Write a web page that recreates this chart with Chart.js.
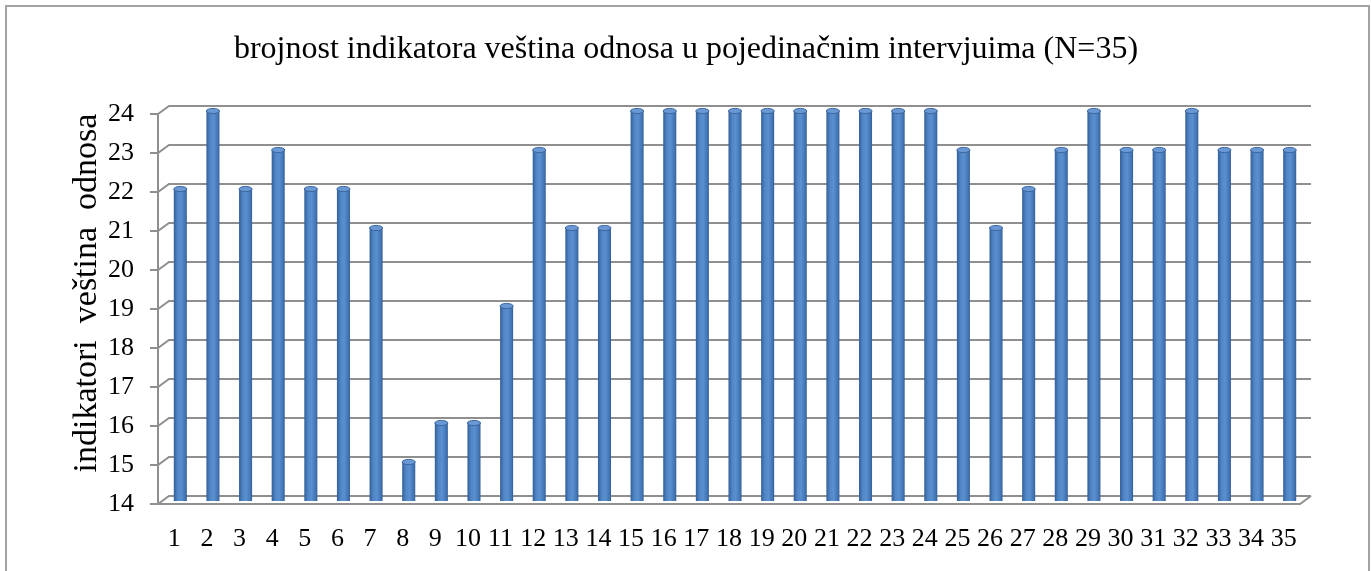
<!DOCTYPE html>
<html>
<head>
<meta charset="utf-8">
<script src="https://cdn.jsdelivr.net/npm/chart.js@4/dist/chart.umd.min.js"></script>
<style>
  html, body { margin: 0; padding: 0; background: #fff; }
  #wrap { position: relative; width: 1372px; height: 571px; overflow: hidden; }
  #frame { position: absolute; left: 5px; top: 5px; width: 1361px; height: 600px;
           border: 2px solid #a3a3a3; pointer-events: none; }
</style>
</head>
<body>
<div id="wrap">
  <canvas id="chart" width="1372" height="571"></canvas>
  <div id="frame"></div>
</div>
<script>
const TITLE = 'brojnost indikatora veština odnosa u pojedinačnim intervjuima (N=35)';
const Y_TITLE = 'indikatori  veština  odnosa';
const INTERVIEWS = ['1','2','3','4','5','6','7','8','9','10','11','12','13','14','15','16','17','18',
  '19','20','21','22','23','24','25','26','27','28','29','30','31','32','33','34','35'];
const INDICATORS = [22, 24, 22, 23, 22, 22, 21, 15, 16, 16, 19, 23, 21, 21, 24, 24, 24, 24,
  24, 24, 24, 24, 24, 24, 23, 21, 22, 23, 24, 23, 23, 24, 23, 23, 23];
const Y_MIN = 14, Y_MAX = 24;

const FONT = 'Liberation Serif, Times New Roman, serif';
const GRID = '#8f8f8f';
const DEPTH_X = 11, DEPTH_Y = 8;   // 3d wall offset
const SHIFT_X = 6, SHIFT_Y = -3;   // bars sit half way into the depth

// gray back wall + floor, like excel 3d charts
const wallPlugin = {
  id: 'wall',
  beforeDatasetsDraw(chart) {
    const {ctx, chartArea: a, scales: {y}} = chart;
    ctx.save();
    ctx.strokeStyle = GRID;
    ctx.lineWidth = 2;
    y.ticks.forEach(t => {
      const py = Math.round(y.getPixelForValue(t.value));
      ctx.beginPath();
      ctx.moveTo(a.left - 8, py);
      ctx.lineTo(a.left, py);
      ctx.lineTo(a.left + DEPTH_X, py - DEPTH_Y);
      ctx.lineTo(a.right + DEPTH_X, py - DEPTH_Y);
      ctx.stroke();
    });
    // front axis line
    ctx.beginPath();
    ctx.moveTo(a.left, a.top);
    ctx.lineTo(a.left, a.bottom);
    // front floor edge + right side
    ctx.lineTo(a.right, a.bottom);
    ctx.lineTo(a.right + DEPTH_X, a.bottom - DEPTH_Y);
    ctx.stroke();
    ctx.restore();

    ctx.save();
    ctx.translate(SHIFT_X, SHIFT_Y);
  },
  afterDatasetsDraw(chart) {
    const {ctx} = chart;
    // cylinder caps
    chart.getDatasetMeta(0).data.forEach(bar => {
      const w = bar.width;
      ctx.beginPath();
      ctx.ellipse(bar.x, bar.y, w / 2, 2.6, 0, 0, Math.PI * 2);
      ctx.fillStyle = '#6a98d4';
      ctx.fill();
      ctx.lineWidth = 1;
      ctx.strokeStyle = '#3b679f';
      ctx.stroke();
    });
    ctx.restore();

    ctx.save();
    ctx.fillStyle = '#000';
    ctx.textAlign = 'center';
    ctx.textBaseline = 'middle';
    // chart title
    ctx.font = '32px ' + FONT;
    ctx.fillText(TITLE, 686, 50);
    // y axis title
    ctx.translate(87, 293);
    ctx.rotate(-Math.PI / 2);
    ctx.font = '34px ' + FONT;
    ctx.fillText(Y_TITLE, 0, 0);
    ctx.restore();
  }
};

function cylinderFill(c) {
  const chart = c.chart;
  if (!chart.chartArea) return '#4f81bd';
  const x = chart.scales.x.getPixelForValue(c.dataIndex);
  const half = 7;
  const g = chart.ctx.createLinearGradient(x - half, 0, x + half, 0);
  g.addColorStop(0, '#2f5a92');
  g.addColorStop(0.3, '#5186c6');
  g.addColorStop(0.55, '#5a8fd0');
  g.addColorStop(0.85, '#4274b3');
  g.addColorStop(1, '#2d578d');
  return g;
}

new Chart(document.getElementById('chart'), {
  type: 'bar',
  data: {
    labels: INTERVIEWS,
    datasets: [{
      data: INDICATORS,
      backgroundColor: cylinderFill,
      borderWidth: 0,
      barPercentage: 0.4,
      categoryPercentage: 1
    }]
  },
  options: {
    responsive: false,
    animation: false,
    events: [],
    layout: { padding: { left: 0, right: 72, top: 114, bottom: 0 } },
    plugins: {
      legend: { display: false },
      tooltip: { enabled: false },
      title: { display: false }
    },
    scales: {
      x: {
        grid: { display: false, drawTicks: false },
        border: { display: false },
        ticks: { color: '#000', font: { family: FONT, size: 26 }, padding: 20,
                 maxRotation: 0, autoSkip: false },
        afterFit(s) { s.height = 67; }
      },
      y: {
        min: Y_MIN,
        max: Y_MAX,
        grid: { display: false, drawTicks: false },
        border: { display: false },
        ticks: { stepSize: 1, color: '#000', font: { family: FONT, size: 26 }, padding: 24 },
        afterFit(s) { s.width = 158; }
      }
    }
  },
  plugins: [wallPlugin]
});
</script>
</body>
</html>
